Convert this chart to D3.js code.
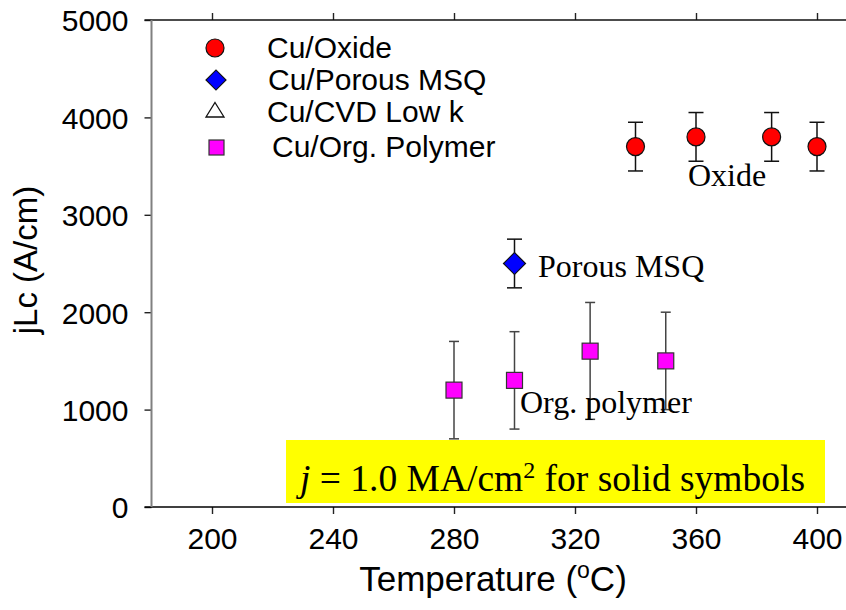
<!DOCTYPE html>
<html>
<head>
<meta charset="utf-8">
<script src="https://cdn.jsdelivr.net/npm/d3@7"></script>
<style>
  html, body { margin: 0; padding: 0; background: #fff; }
  svg { display: block; }
</style>
</head>
<body>
<svg id="chart" width="846" height="610"></svg>
<script>
// Temperature ticks and current-density ticks
const xTicks = [200, 240, 280, 320, 360, 400];
const yTicks = [0, 1000, 2000, 3000, 4000, 5000];

// Cu/Oxide
const oxideTemp = [340, 360, 385, 400];
const oxideJ    = [3700, 3800, 3800, 3700];
const oxideLow  = [3450, 3550, 3550, 3450];
const oxideHigh = [3950, 4050, 4050, 3950];

// Cu/Porous MSQ
const msqTemp = [300];
const msqJ    = [2500];
const msqLow  = [2250];
const msqHigh = [2750];

// Cu/Org. Polymer
const polyTemp = [280, 300, 325, 350];
const polyJ    = [1200, 1300, 1600, 1500];
const polyLow  = [700, 800, 900, 1000];
const polyHigh = [1700, 1800, 2100, 2000];

const legendLabels = ["Cu/Oxide", "Cu/Porous MSQ", "Cu/CVD Low k", "Cu/Org. Polymer"];

const svg = d3.select("#chart");
const sans = "Liberation Sans, Arial, sans-serif";
const serif = "Liberation Serif, Times New Roman, serif";

const x = d3.scaleLinear().domain([180, 410]).range([151.5, 847.25]);
const y = d3.scaleLinear().domain([0, 5000]).range([507, 20]);

const plotLeft = x(180), plotRight = 846, plotTop = y(5000), plotBottom = y(0);

// Frame: bottom and top lines with outward ticks
const xAxisB = d3.axisBottom(x).tickValues(xTicks).tickSize(7).tickFormat(d3.format("d"));
const gB = svg.append("g").attr("transform", `translate(0,${plotBottom})`).call(xAxisB);
gB.select(".domain").remove();
gB.selectAll(".tick line").attr("stroke", "#222").attr("stroke-width", 1.4);
gB.selectAll(".tick text").attr("font-family", sans).attr("font-size", 30)
  .attr("fill", "#000").attr("dy", null).attr("y", 42);

const xAxisT = d3.axisTop(x).tickValues(xTicks).tickSize(7).tickFormat("");
const gT = svg.append("g").attr("transform", `translate(0,${plotTop})`).call(xAxisT);
gT.select(".domain").remove();
gT.selectAll(".tick line").attr("stroke", "#222").attr("stroke-width", 1.4);

const yAxis = d3.axisLeft(y).tickValues(yTicks).tickSize(7).tickFormat(d3.format("d"));
const gL = svg.append("g").attr("transform", `translate(${plotLeft},0)`).call(yAxis);
gL.select(".domain").remove();
gL.selectAll(".tick line").attr("stroke", "#222").attr("stroke-width", 1.4);
gL.selectAll(".tick text").attr("font-family", sans).attr("font-size", 30)
  .attr("fill", "#000").attr("x", -23).attr("dy", "0.36em");

svg.append("line").attr("x1", plotLeft - 7).attr("x2", plotRight).attr("y1", plotBottom).attr("y2", plotBottom)
  .attr("stroke", "#000").attr("stroke-width", 1.6);
svg.append("line").attr("x1", plotLeft - 7).attr("x2", plotRight).attr("y1", plotTop).attr("y2", plotTop)
  .attr("stroke", "#111").attr("stroke-width", 1.6);
svg.append("line").attr("x1", plotLeft).attr("x2", plotLeft).attr("y1", plotTop).attr("y2", plotBottom)
  .attr("stroke", "#808080").attr("stroke-width", 2);

// Axis titles
const xt = svg.append("text").attr("x", 493).attr("y", 591).attr("text-anchor", "middle")
  .attr("font-family", sans).attr("font-size", 35).attr("fill", "#000");
xt.append("tspan").text("Temperature (");
xt.append("tspan").attr("font-size", 23).attr("dy", -13).text("o");
xt.append("tspan").attr("dy", 13).text("C)");

svg.append("text").attr("transform", "translate(37,260) rotate(-90)")
  .attr("text-anchor", "middle").attr("font-family", sans).attr("font-size", 33)
  .attr("fill", "#000").text("jLc (A/cm)");

// Error bars
function errorBars(temps, lows, highs, cap, color) {
  const g = svg.append("g").attr("stroke", color).attr("stroke-width", 1.5);
  temps.forEach((t, i) => {
    g.append("line").attr("x1", x(t)).attr("x2", x(t)).attr("y1", y(lows[i])).attr("y2", y(highs[i]));
    g.append("line").attr("x1", x(t) - cap / 2).attr("x2", x(t) + cap / 2).attr("y1", y(lows[i])).attr("y2", y(lows[i]));
    g.append("line").attr("x1", x(t) - cap / 2).attr("x2", x(t) + cap / 2).attr("y1", y(highs[i])).attr("y2", y(highs[i]));
  });
}

// Highlight box with the current-density note
svg.append("rect").attr("x", 286).attr("y", 440).attr("width", 539).attr("height", 63)
  .attr("fill", "#ffff00");
const note = svg.append("text").attr("x", 300).attr("y", 491)
  .attr("font-family", serif).attr("font-size", 37.5).attr("fill", "#000");
note.append("tspan").attr("font-style", "italic").text("j");
note.append("tspan").text(" = 1.0 MA/cm");
note.append("tspan").attr("font-size", 24).attr("dy", -13).text("2");
note.append("tspan").attr("dy", 13).text(" for solid symbols");

errorBars(oxideTemp, oxideLow, oxideHigh, 15, "#111");
errorBars(msqTemp, msqLow, msqHigh, 15, "#111");
errorBars(polyTemp, polyLow, polyHigh, 10, "#444");

// Markers
svg.append("g").selectAll("circle").data(oxideTemp).join("circle")
  .attr("cx", d => x(d)).attr("cy", (d, i) => y(oxideJ[i])).attr("r", 9)
  .attr("fill", "#ff0000").attr("stroke", "#111").attr("stroke-width", 1.2);

const diamond = d3.symbol().type(d3.symbolSquare).size(242);
svg.append("g").selectAll("path").data(msqTemp).join("path")
  .attr("d", diamond)
  .attr("transform", (d, i) => `translate(${x(d)},${y(msqJ[i])}) rotate(45)`)
  .attr("fill", "#0000ff").attr("stroke", "#111").attr("stroke-width", 1.2);

svg.append("g").selectAll("rect").data(polyTemp).join("rect")
  .attr("x", d => x(d) - 8).attr("y", (d, i) => y(polyJ[i]) - 8)
  .attr("width", 16).attr("height", 16)
  .attr("fill", "#ff00ff").attr("stroke", "#333").attr("stroke-width", 1.2);

// Series labels
const lbl = [["Oxide", 688, 186], ["Porous MSQ", 538, 277], ["Org. polymer", 520, 413]];
lbl.forEach(([t, lx, ly]) => svg.append("text").attr("x", lx).attr("y", ly)
  .attr("font-family", serif).attr("font-size", 32).attr("fill", "#000").text(t));

// Legend
const lg = svg.append("g");
lg.append("circle").attr("cx", 215).attr("cy", 48).attr("r", 9)
  .attr("fill", "#ff0000").attr("stroke", "#111").attr("stroke-width", 1.2);
lg.append("path").attr("d", d3.symbol().type(d3.symbolSquare).size(200)())
  .attr("transform", "translate(216,80) rotate(45)")
  .attr("fill", "#0000ff").attr("stroke", "#111").attr("stroke-width", 1.2);
lg.append("path").attr("d", "M0,-7.5 L9,7 L-9,7 Z")
  .attr("transform", "translate(215,110)")
  .attr("fill", "#fff").attr("stroke", "#111").attr("stroke-width", 1.3);
lg.append("rect").attr("x", 209).attr("y", 140).attr("width", 15).attr("height", 15)
  .attr("fill", "#ff00ff").attr("stroke", "#333").attr("stroke-width", 1.2);
const lgPos = [[267, 58], [268, 90], [267, 122], [272, 157]];
legendLabels.forEach((t, i) => lg.append("text").attr("x", lgPos[i][0]).attr("y", lgPos[i][1])
  .attr("font-family", sans).attr("font-size", 30).attr("fill", "#000").text(t));
</script>
</body>
</html>
